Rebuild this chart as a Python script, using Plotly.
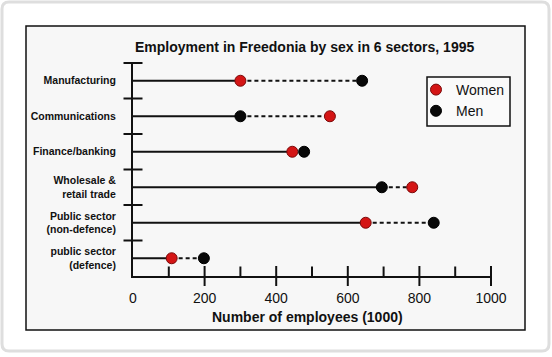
import plotly.graph_objects as go

# ---- data ----
sectors = ["Manufacturing", "Communications", "Finance/banking",
           "Wholesale &<br>retail trade", "Public sector<br>(non-defence)",
           "public sector<br>(defence)"]
women = [300, 550, 445, 780, 650, 108]
men = [640, 300, 478, 695, 840, 198]
x_major = [0, 200, 400, 600, 800, 1000]
x_minor = [100, 300, 500, 700, 900]
x_range = [0, 1000]

W, H = 552, 357
ML, MR, MT, MB = 133, 61, 63, 81
PW, PH = W - ML - MR, H - MT - MB


def px(x):
    return (x - ML) / PW


def py(y):
    return (H - MB - y) / PH


def xval_paper(v):
    return (v - x_range[0]) / (x_range[1] - x_range[0])


n = len(sectors)
y_range = [n - 0.5, -0.5]


def ycat_paper(c):
    return (y_range[0] - c) / (y_range[0] - y_range[1])


ypos = list(range(n))
lo = [min(a, b) for a, b in zip(women, men)]
hi = [max(a, b) for a, b in zip(women, men)]

sx, sy, dx, dy = [], [], [], []
for i in ypos:
    sx += [0, lo[i], None]
    sy += [i, i, None]
    dx += [lo[i], hi[i], None]
    dy += [i, i, None]

fig = go.Figure()
fig.add_trace(go.Scatter(x=sx, y=sy, mode="lines", line=dict(color="#111", width=2),
                         showlegend=False, hoverinfo="skip"))
fig.add_trace(go.Scatter(x=dx, y=dy, mode="lines",
                         line=dict(color="#111", width=2, dash="4px,3px"),
                         showlegend=False, hoverinfo="skip"))
fig.add_trace(go.Scatter(x=women, y=ypos, mode="markers", name="Women",
                         marker=dict(size=11, color="#d41515",
                                     line=dict(color="#7a0a0a", width=1))))
fig.add_trace(go.Scatter(x=men, y=ypos, mode="markers", name="Men",
                         marker=dict(size=11, color="#080808",
                                     line=dict(color="#000", width=1))))

shapes = []
# card border
x0, y0, x1, y1, r = 2, 2, 549, 351, 7
path = (f"M {px(x0+r)},{py(y0)} L {px(x1-r)},{py(y0)} Q {px(x1)},{py(y0)} {px(x1)},{py(y0+r)} "
        f"L {px(x1)},{py(y1-r)} Q {px(x1)},{py(y1)} {px(x1-r)},{py(y1)} "
        f"L {px(x0+r)},{py(y1)} Q {px(x0)},{py(y1)} {px(x0)},{py(y1-r)} "
        f"L {px(x0)},{py(y0+r)} Q {px(x0)},{py(y0)} {px(x0+r)},{py(y0)} Z")
shapes.append(dict(type="path", xref="paper", yref="paper", path=path,
                   line=dict(color="#dedede", width=3), fillcolor="white", layer="below"))
# inner frame
shapes.append(dict(type="rect", xref="paper", yref="paper",
                   x0=px(26), x1=px(525), y0=py(26), y1=py(330),
                   line=dict(color="#111", width=1.5), fillcolor="#f7f7f7", layer="below"))
# legend box
shapes.append(dict(type="rect", xref="paper", yref="paper",
                   x0=px(427), x1=px(510), y0=py(77), y1=py(126),
                   line=dict(color="#111", width=1.5), fillcolor="#fafafa", layer="below"))
# category boundary ticks crossing y axis
tx = 9.5 / PW
for i in range(n):
    yb = ycat_paper(i - 0.5)
    shapes.append(dict(type="line", xref="paper", yref="paper",
                       x0=-tx, x1=tx, y0=yb, y1=yb,
                       line=dict(color="#111", width=2)))
# x ticks: major cross the axis, minor inside only
ty = 10 / PH
for v in x_major[1:]:
    xp = xval_paper(v)
    shapes.append(dict(type="line", xref="paper", yref="paper", x0=xp, x1=xp,
                       y0=-ty, y1=ty, line=dict(color="#111", width=2)))
for v in x_minor:
    xp = xval_paper(v)
    shapes.append(dict(type="line", xref="paper", yref="paper", x0=xp, x1=xp,
                       y0=0, y1=ty * 0.95, line=dict(color="#111", width=2)))

fig.update_layout(
    width=W, height=H,
    margin=dict(l=ML, r=MR, t=MT, b=MB),
    paper_bgcolor="white", plot_bgcolor="rgba(0,0,0,0)",
    font=dict(family="Arial, Liberation Sans, sans-serif", color="#111"),
    shapes=shapes,
    showlegend=True,
    legend=dict(x=px(416), y=py(74), xanchor="left", yanchor="top",
                bgcolor="rgba(0,0,0,0)", borderwidth=0,
                font=dict(size=14, color="#111"), itemwidth=30),
    xaxis=dict(range=x_range, tickvals=x_major, ticktext=[str(v) for v in x_major],
               ticks="", showgrid=False, zeroline=False, showline=True,
               linecolor="#111", linewidth=2, tickfont=dict(size=14, color="#111"),
               ticklabelstandoff=8),
    yaxis=dict(range=y_range, tickvals=ypos, ticktext=sectors,
               ticks="", showgrid=False, zeroline=False, showline=True,
               linecolor="#111", linewidth=2,
               tickfont=dict(size=10.5, color="#111", weight="bold"),
               ticklabelstandoff=13),
    annotations=[
        dict(text="<b>Employment in Freedonia by sex in 6 sectors, 1995</b>",
             xref="paper", yref="paper", x=px(304), y=py(47.5),
             xanchor="center", yanchor="middle", showarrow=False,
             font=dict(size=14, color="#111")),
        dict(text="<b>Number of employees (1000)</b>",
             xref="paper", yref="paper", x=px(307), y=py(317),
             xanchor="center", yanchor="middle", showarrow=False,
             font=dict(size=14, color="#111")),
    ],
)

fig.write_html("out.html", config={"displayModeBar": False},
               post_script="document.body.style.margin='0';")
